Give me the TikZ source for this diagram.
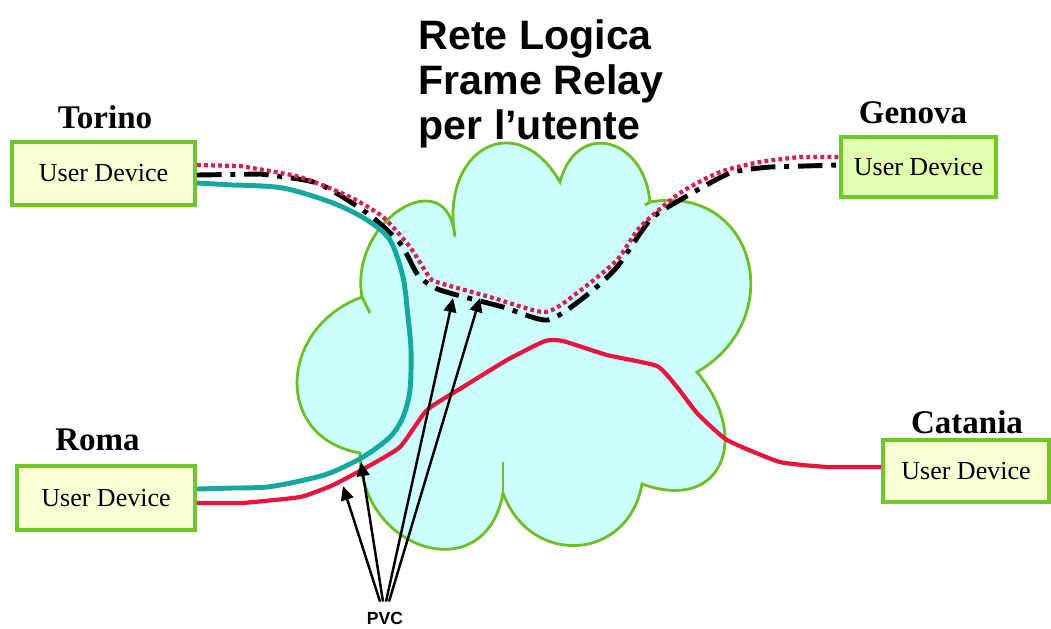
\documentclass[tikz,border=0pt]{standalone}
\usepackage{fontspec}
\setmainfont{Liberation Serif}
\setsansfont{Liberation Sans}
\usepackage{xcolor}
\usepackage{tikz}
\usetikzlibrary{arrows.meta}

\definecolor{cloudfill}{RGB}{204,255,255}
\definecolor{cloudline}{RGB}{110,190,40}
\definecolor{boxline}{RGB}{110,200,40}
\definecolor{boxfill}{RGB}{250,255,212}
\definecolor{boxfillg}{RGB}{226,255,176}
\definecolor{pvcteal}{RGB}{22,168,158}
\definecolor{pvcred}{RGB}{232,20,62}
\definecolor{pvcpink}{RGB}{218,30,82}

\begin{document}
\begin{tikzpicture}[
  device/.style={draw=boxline, line width=1.1pt, fill=boxfill, inner sep=0pt,
    font=\fontsize{7.4}{8}\selectfont},
  city/.style={anchor=base, inner sep=0pt, font=\fontsize{9.4}{10}\selectfont\bfseries},
  tealpvc/.style={pvcteal, line width=1.4pt},
  redpvc/.style={pvcred, line width=1.2pt},
  dotpvc/.style={pvcpink, line width=1.2pt, dash pattern=on 1.1pt off 0.9pt},
  blackpvc/.style={black, line width=1.4pt, dash pattern=on 7pt off 2.5pt on 1.4pt off 2.5pt},
  pvcarrow/.style={-{Triangle[length=4pt,width=3.6pt]}, line width=0.7pt}
]
\useasboundingbox (0,0) rectangle (10.51,-6.28);

% network cloud
\draw[cloudline, line width=0.8pt, fill=cloudfill]
  (3.62,-2.97) to[out=100,in=95,looseness=1.8] (4.55,-2.37)
  to[out=100,in=120,looseness=1.9] (5.60,-1.82)
  to[out=75,in=95,looseness=1.8] (6.50,-2.02)
  to[out=10,in=30,looseness=1.55] (6.97,-3.72)
  to[out=-50,in=-20,looseness=1.75] (6.42,-4.84)
  to[out=-100,in=-70,looseness=1.45] (5.03,-4.93)
  to[out=-100,in=-90,looseness=1.7] (3.60,-4.53)
  to[out=170,in=200,looseness=1.45] cycle;
\draw[cloudline, line width=0.8pt] (5.03,-4.93) -- (5.03,-4.62);
\draw[cloudline, line width=0.8pt] (3.62,-2.97) -- (3.70,-3.13);
\draw[cloudline, line width=0.8pt] (6.50,-2.02) -- (6.45,-2.05);

% user devices
\node[device, minimum width=1.83cm, minimum height=0.63cm] (torino) at (1.035,-1.735) {User Device};
\node[device, minimum width=1.78cm, minimum height=0.64cm] (roma) at (1.06,-4.98) {User Device};
\node[device, fill=boxfillg, minimum width=1.55cm, minimum height=0.60cm] (genova) at (9.185,-1.67) {User Device};
\node[device, minimum width=1.66cm, minimum height=0.62cm] (catania) at (9.66,-4.71) {User Device};

\node[city] (torinolbl) at (1.05,-1.28) {Torino};
\node[city] (romalbl) at (0.975,-4.50) {Roma};
\node[city] (genovalbl) at (9.13,-1.23) {Genova};
\node[city] (catanialbl) at (9.67,-4.33) {Catania};

\node[anchor=north west, align=left, inner sep=0pt,
  font=\sffamily\bfseries\fontsize{11.7}{12.8}\selectfont] (title) at (4.18,-0.19)
  {Rete Logica\\Frame Relay\\per l’utente};

% circuits
\draw[blackpvc] ([yshift=-0.015cm]torino.east) -- plot[smooth, tension=0.4] coordinates {
  (2.60,-1.74) (3.17,-1.83) (3.67,-2.13) (4.00,-2.43) (4.18,-2.75) (4.40,-2.90)
  (5.03,-3.07) (5.48,-3.20) (5.87,-2.95) (6.17,-2.67) (6.50,-2.20) (6.80,-2.00)
  (7.30,-1.73) (7.70,-1.67)} -- ([yshift=0.02cm]genova.west);
\draw[dotpvc] ([yshift=0.085cm]torino.east) -- plot[smooth, tension=0.4] coordinates {
  (2.40,-1.66) (3.00,-1.77) (3.50,-1.97) (3.83,-2.17) (4.10,-2.47) (4.30,-2.78)
  (4.40,-2.83) (4.90,-2.97) (5.45,-3.12) (5.77,-2.93) (6.17,-2.60) (6.40,-2.27)
  (6.80,-1.93) (7.20,-1.72) (7.60,-1.62) (8.00,-1.57)} -- ([yshift=0.10cm]genova.west);
\draw[tealpvc] ([yshift=-0.095cm]torino.east) -- plot[smooth, tension=0.5] coordinates {
  (2.33,-1.85) (2.83,-1.88) (3.33,-2.03) (3.67,-2.20) (3.90,-2.40) (4.03,-2.77)
  (4.08,-3.17) (4.11,-3.50) (4.10,-3.90) (4.03,-4.17) (3.90,-4.37) (3.63,-4.57)
  (3.30,-4.73) (3.00,-4.81) (2.67,-4.87) (2.33,-4.88)} -- ([yshift=0.09cm]roma.east);
\draw[redpvc] ([yshift=-0.05cm]roma.east) -- plot[smooth, tension=0.3] coordinates {
  (2.43,-5.03) (3.00,-4.97) (3.33,-4.85) (3.67,-4.67) (4.00,-4.47) (4.27,-4.10)
  (4.63,-3.87) (5.07,-3.60) (5.45,-3.41) (5.63,-3.41) (6.07,-3.55) (6.57,-3.66)
  (6.77,-3.87) (6.97,-4.13) (7.27,-4.40) (7.80,-4.62) (8.27,-4.67)} -- ([yshift=0.04cm]catania.west);

% PVC pointers
\node[inner sep=1pt, font=\sffamily\bfseries\fontsize{5}{6}\selectfont] (pvc) at (3.85,-6.18) {PVC};
\coordinate (tipa) at (3.43,-4.86);
\coordinate (tipb) at (3.61,-4.62);
\coordinate (tipc) at (4.53,-2.98);
\coordinate (tipd) at (4.80,-2.98);
\draw[pvcarrow] ([xshift=-0.05cm,yshift=0.06cm]pvc.north) -- (tipa);
\draw[pvcarrow] ([xshift=-0.02cm,yshift=0.06cm]pvc.north) -- (tipb);
\draw[pvcarrow] ([xshift=0.01cm,yshift=0.06cm]pvc.north) -- (tipc);
\draw[pvcarrow] ([xshift=0.04cm,yshift=0.06cm]pvc.north) -- (tipd);
\end{tikzpicture}
\end{document}
